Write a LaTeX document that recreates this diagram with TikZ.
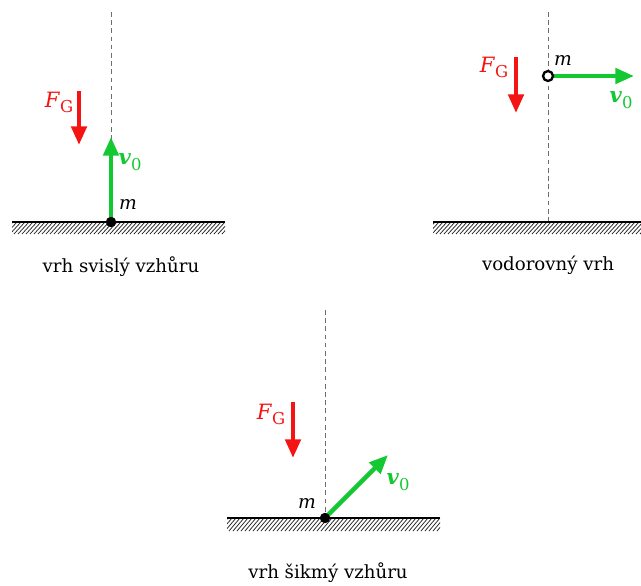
\documentclass[tikz,border=0pt]{standalone}
\usepackage{fontspec}
\setmainfont{DejaVu Serif}
\usepackage{tikz}
\usetikzlibrary{arrows.meta,positioning,calc}
\definecolor{fgred}  {RGB}{245, 20, 20}
\definecolor{vgreen} {RGB}{ 20,200, 50}
\definecolor{axgray} {RGB}{110,110,110}
\tikzset{
  axis/.style={draw=axgray,line width=0.6pt,dash pattern=on 4pt off 3pt},
  ground/.style={draw=black,line width=1pt},
  hatch/.style={draw=black!85,line width=0.65pt},
  mass/.style={circle,draw=black,fill=black,line width=0.8pt,
               inner sep=0pt,minimum size=8pt},
  force/.style={-{Triangle[length=16pt,width=13pt]},line width=3.7pt,color=fgred},
  velo/.style={-{Triangle[length=16pt,width=13pt]},line width=3.7pt,color=vgreen},
  flbl/.style={text=fgred,font=\fontsize{18}{20}\selectfont,inner sep=0pt},
  vlbl/.style={text=vgreen,font=\fontsize{18}{20}\selectfont,inner sep=0pt},
  mlbl/.style={font=\fontsize{16}{18}\selectfont\itshape,inner sep=0pt},
  caption/.style={font=\fontsize{15.5}{18}\selectfont,inner sep=0pt},
}
\newcommand{\fg}{\textit{F}\raisebox{-0.45ex}{\fontsize{14}{16}\selectfont G}}
\newcommand{\vnull}{\textbf{\textit{v}}\raisebox{-0.6ex}{\fontsize{14}{16}\selectfont 0}}

\begin{document}
\begin{tikzpicture}[x=0.03cm,y=-0.03cm]
\useasboundingbox (0,0) rectangle (641,586);

% vrh svisly vzhuru
\draw[axis] (111,12) -- (111,222);
\begin{scope}
  \clip (12,222) rectangle (225,234);
  \foreach \x in {2,6,...,230} \draw[hatch] (\x,234) -- (\x+11,222);
\end{scope}
\draw[ground] (12,222) -- (225,222);
\coordinate (v1) at (111,137);
\coordinate (f1a) at (79,91);
\coordinate (f1b) at (79,145);
\draw[velo] (111,222) -- (v1);
\draw[force] (f1a) -- (f1b);
\node[mass] (m1) at (111,222) {};
\node[mlbl] (m1l) at (128,204) {m};
\node[vlbl] (v1l) at (130,162) {\vnull};
\node[flbl] (f1l) at (59,102) {\fg};
\node[caption] (c1) at (121,267) {vrh svislý vzhůru};

% vodorovny vrh
\draw[axis] (548,12) -- (548,222);
\begin{scope}
  \clip (433,222) rectangle (641,234);
  \foreach \x in {424,428,...,645} \draw[hatch] (\x,234) -- (\x+11,222);
\end{scope}
\draw[ground] (433,222) -- (641,222);
\coordinate (v2) at (634,76);
\coordinate (f2a) at (516,57);
\coordinate (f2b) at (516,113);
\draw[velo] (548,76) -- (v2);
\draw[force] (f2a) -- (f2b);
\node[mass,fill=white,line width=2pt,minimum size=8.5pt] (m2) at (548,76) {};
\node[mlbl] (m2l) at (563,61) {m};
\node[vlbl] (v2l) at (621,100) {\vnull};
\node[flbl] (f2l) at (494,67) {\fg};
\node[caption] (c2) at (548,265) {vodorovný vrh};

% vrh sikmy vzhuru
\draw[axis] (325,310) -- (325,518);
\begin{scope}
  \clip (227,518) rectangle (440,531);
  \foreach \x in {217,221,...,445} \draw[hatch] (\x,531) -- (\x+11,518);
\end{scope}
\draw[ground] (227,518) -- (440,518);
\coordinate (v3) at (388,455);
\coordinate (f3a) at (293,402);
\coordinate (f3b) at (293,458);
\draw[velo] (325,518) -- (v3);
\draw[force] (f3a) -- (f3b);
\node[mass] (m3) at (325,518) {};
\node[mlbl] (m3l) at (307,503) {m};
\node[vlbl] (v3l) at (398,482) {\vnull};
\node[flbl] (f3l) at (271,414) {\fg};
\node[caption] (c3) at (328,573) {vrh šikmý vzhůru};
\end{tikzpicture}
\end{document}
